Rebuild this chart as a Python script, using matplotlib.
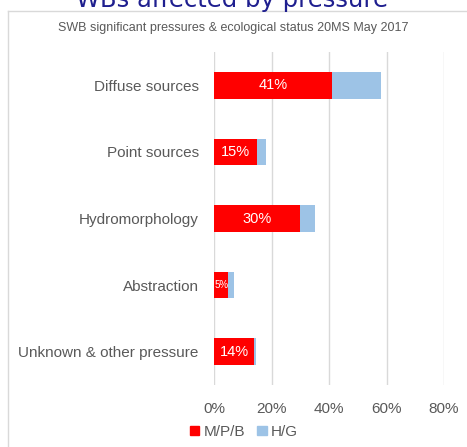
import matplotlib
matplotlib.use("Agg")
import matplotlib.pyplot as plt
from matplotlib.patches import Patch
from matplotlib.lines import Line2D

categories = ["Diffuse sources", "Point sources", "Hydromorphology", "Abstraction", "Unknown & other pressure"]
mpb = [41, 15, 30, 5, 14]
hg = [17, 3, 5, 2, 0.6]
labels = ["41%", "15%", "30%", "5%", "14%"]
xticks = [0, 20, 40, 60, 80]

plt.rcParams['font.family'] = ['Liberation Sans', 'DejaVu Sans']
fig = plt.figure(figsize=(4.67, 4.47), dpi=100)
fig.patch.set_facecolor('white')

# top slide title (cut off at the top edge, as in the source)
fig.text(232/467, 1 - 6.5/447, "WBs affected by pressure", ha='center', va='baseline',
         fontsize=17.5, color='#1F1F8F', fontfamily=['DejaVu Sans'])
# chart box border
fig.add_artist(Line2D([7.5/467, 7.5/467], [0, 1 - 11/447], color='#D9D9D9', lw=1))
fig.add_artist(Line2D([7.5/467, 1], [1 - 11/447, 1 - 11/447], color='#D9D9D9', lw=1))

fig.text(233/467, 1 - 28/447, "SWB significant pressures & ecological status 20MS May 2017",
         ha='center', va='center', fontsize=9, color='#595959')

ax = fig.add_axes([214/467, 1 - 385/447, (444 - 214)/467, (385 - 52)/447])
y = list(range(len(categories)))
ax.barh(y, mpb, height=0.4, color='#FF0000', label='M/P/B', zorder=3)
ax.barh(y, hg, left=mpb, height=0.4, color='#9DC3E6', label='H/G', zorder=3)
for i, (v, t) in enumerate(zip(mpb, labels)):
    ax.text(v / 2, i, t, ha='center', va='center', color='white',
            fontsize=7 if v < 8 else 10.5, zorder=4)

ax.set_xlim(0, 80)
ax.set_ylim(len(categories) - 0.5, -0.5)
ax.set_yticks(y)
ax.set_yticklabels(categories, fontsize=11, color='#595959')
ax.set_xticks(xticks)
ax.set_xticklabels([f"{t}%" for t in xticks], fontsize=11, color='#595959')
ax.tick_params(axis='y', length=0, pad=11)
ax.tick_params(axis='x', length=0, pad=12)
ax.xaxis.grid(True, color='#D9D9D9', lw=1, zorder=0)
for s in ax.spines.values():
    s.set_visible(False)

handles = [Patch(color='#FF0000', label='M/P/B'), Patch(color='#9DC3E6', label='H/G')]
fig.legend(handles=handles, loc='center', bbox_to_anchor=(244/467, 1 - 432/447), ncol=2,
           frameon=False, fontsize=11, handlelength=0.6, handleheight=0.6,
           handletextpad=0.3, columnspacing=0.8, labelcolor='#595959')

fig.savefig("out.png", dpi=100)
